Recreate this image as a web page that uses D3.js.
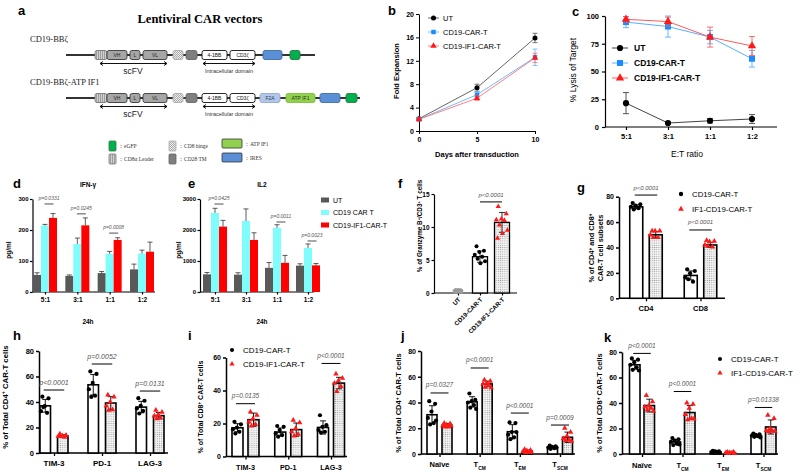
<!DOCTYPE html>
<html><head><meta charset="utf-8">
<script src="https://cdn.jsdelivr.net/npm/d3@7/dist/d3.min.js"></script>
<style>html,body{margin:0;padding:0;background:#fff;overflow:hidden}</style>
</head><body>
<script>
// ===================== DATA =====================
// Panel a – vector schematic
const aTitle = "Lentiviral CAR vectors";
const aNames = ["CD19-BBζ", "CD19-BBζ-ATP IF1"];
const aParts1 = ["Leader","VH","L","VL","Hinge","TM","4-1BB","CD3ζ","IRES","eGFP"];
const aParts2 = ["Leader","VH","L","VL","Hinge","TM","4-1BB","CD3ζ","F2A","ATP IF1","IRES","eGFP"];
const aLegendParts = ["eGFP","Leader","Hinge","TM","ATP IF1","IRES"];
const aLegendLabels = ["：eGFP","：CD8α Leader","：CD8 hinge","：CD28 TM","：ATP IF1","：IRES"];

// Panel b – fold expansion
const bDays = [0,5,10];
const bNames = ["UT","CD19-CAR-T","CD19-IF1-CAR-T"];
const bUT  = [2.1,7.4,15.9], bUTErr  = [0.2,0.6,0.8];
const bCAR = [2.0,6.2,12.6], bCARErr = [0.1,0.5,1.4];
const bIF1 = [2.0,5.6,12.5], bIF1Err = [0.1,0.4,0.8];
const bTicks = [0,4,8,12,16,20];

// Panel c – lysis
const cRatios = ["5:1","3:1","1:1","1:2"];
const cUT  = [21.5,3.6,5.6,7.2],  cUTErr  = [9.5,1,2,4];
const cCAR = [94.5,90.5,81,61.5], cCARErr = [5,9.5,6,7.5];
const cIF1 = [97,95,81,73],       cIF1Err = [2.5,4,9,8.5];
const cTicks = [0,25,50,75,100];

// Panel d – IFN-γ
const dCats = ["5:1","3:1","1:1","1:2"];
const dUT  = [55,52,61,73],    dUTErr  = [7,3,5,17];
const dCAR = [214,155,123,124], dCARErr = [4,19,8,11];
const dIF1 = [239,215,168,130], dIF1Err = [14,24,7,31];
const dTicks = [0,100,200,300];
const dPText = ["p=0.0331","p=0.0245","p=0.0008"], dPCats = ["5:1","3:1","1:1"], dPLevel = [284,252,190];

// Panel e – IL2
const eCats = ["5:1","3:1","1:1","1:2"];
const eUT  = [570,560,780,850],     eUTErr  = [60,60,170,60];
const eCAR = [2550,2290,2070,1420], eCARErr = [150,390,100,130];
const eIF1 = [2110,1680,940,860],   eIF1Err = [200,230,240,60];
const eTicks = [0,1000,2000,3000];
const ePText = ["p=0.0425","p=0.0011","p=0.0023"], ePCats = ["5:1","1:1","1:2"], ePLevel = [2838,2258,1645];
const eLegend = ["UT","CD19 CAR T","CD19-IF1-CAR-T"];

// Panel f – Granzyme B
const fCats = ["UT","CD19-CAR-T","CD19-IF1-CAR-T"];
const fMean = [0.4,5.5,10.7], fSd = [0.1,0.85,1.5];
const fUTPts  = [0.5,0.45,0.4,0.35,0.42,0.3,0.38,0.47];
const fCARPts = [7.1,6.4,6.2,5.8,5.5,5.2,4.8,4.5];
const fIF1Pts = [13.1,12.0,11.2,11.1,11.0,10.3,9.5,9.0,8.3];
const fTicks = [0,5,10,15];
const fPText = "p<0.0001", fPLevel = 13.8;

// Panel g – CD4/CD8 subsets
const gCats = ["CD4","CD8"];
const gCARMean = [72,18], gCARSd = [1.5,3.5];
const gIF1Mean = [50,42], gIF1Sd = [2.5,2];
const gCARPts = [[75,74,73,72,71,70],[22.8,21.5,19.7,16.5,13.1,15]];
const gIF1Pts = [[53,53,53,50,48,48],[45.5,45,44.5,42,40.5,41]];
const gTicks = [0,20,40,60,80];
const gPText = ["p<0.0001","p<0.0001"], gPLevel = [81.3,53.8];
const gLegend = ["CD19-CAR-T","IF1-CD19-CAR-T"];

// Panel h – CD4 exhaustion
const hCats = ["TIM-3","PD-1","LAG-3"];
const hCARMean = [37,53.5,36], hCARSd = [5,8,4.5];
const hIF1Mean = [13.3,39.2,29.3], hIF1Sd = [1,5,2.5];
const hCARPts = [[44.2,42.9,36.7,32.8,31.5,36],[64,62,55,50,45,44],[43,41,37,35,33,31]];
const hIF1Pts = [[15,14,13.5,13,12.5,13],[45.5,44,40,37,34,33.5],[33.5,32,30,29,27.5,27]];
const hTicks = [0,20,40,60,80];
const hPText = ["p<0.0001","p=0.0052","p=0.0131"], hPLevel = [49.4,69.8,48.6];

// Panel i – CD8 exhaustion
const iCats = ["TIM-3","PD-1","LAG-3"];
const iCARMean = [17.4,14.8,17.6], iCARSd = [2.5,2.5,4];
const iIF1Mean = [22.3,16.3,44.5], iIF1Sd = [4,4,3.5];
const iCARPts = [[21,19.5,17.5,16.5,15,14],[18.5,18,16,14,13,12],[25,19,18,16,15,14.5]];
const iIF1Pts = [[27,25,23,21,19.5,18.5],[22,20.5,17,15,13.5,12.5],[50,47.5,46,44.5,42.5,39.5]];
const iTicks = [0,20,40,60];
const iPText = ["p=0.0135","p<0.0001"], iPCats = ["TIM-3","LAG-3"], iPLevel = [32,56.4];
const iLegend = ["CD19-CAR-T","CD19-IF1-CAR-T"];

// Panel j – CD4 memory subsets
const jCats = ["Naive","TCM","TEM","TSCM"];
const jCARMean = [30.5,40.5,17.3,5.2], jCARSd = [7,4,5.5,0.8];
const jIF1Mean = [22.3,54.4,2.2,13], jIF1Sd = [1.3,2.2,0.8,4];
const jCARPts = [[41,39,33,28,24,23,26],[47,42,41,40,38,36,35],[24.5,24,17,15,13,11.5,17],[6.5,6,5.5,5,4.5,4,5]];
const jIF1Pts = [[24,23.5,22.5,22,21,21,22],[57.5,56.5,55,54.5,53.5,52,51.5],[3.5,3,2.5,2,1.5,1,1.5],[20,17,14,12,11,10.5,10]];
const jTicks = [0,20,40,60,80];
const jPText = ["p=0.0327","p<0.0001","p<0.0001","p=0.0009"], jPLevel = [47.4,66.8,31.8,22.5];

// Panel k – CD8 memory subsets
const kCats = ["Naive","TCM","TEM","TSCM"];
const kCARMean = [70,9.5,1.5,14.3], kCARSd = [3.5,2,0.5,1];
const kIF1Mean = [38,32.5,1,21.2], kIF1Sd = [5,5.5,0.4,5.5];
const kCARPts = [[75,74,72,70,68,66,65.5],[12.5,11.5,10.5,9.5,8,7,7.5],[2.5,2,2,1.5,1.5,1,1],[16,15.5,15,14.5,14,13.5,13]];
const kIF1Pts = [[46,41,38,37,36,34.5,33.5],[40,39,36,31,28,27,27.5],[1.5,1.5,1,1,1,0.5,0.5],[30.5,28,20,18.5,18,17.5,18]];
const kTicks = [0,20,40,60,80];
const kPText = ["p<0.0001","p<0.0001","p=0.01338"], kPCats = ["Naive","TCM","TSCM"], kPLevel = [78.9,49,36.5];
const kLegend = ["CD19-CAR-T","IF1-CD19-CAR-T"];

// ===================== DRAWING =====================
const FONT = "'Liberation Sans', Arial, Helvetica, sans-serif";
const SERIF = "'Liberation Serif', 'Times New Roman', serif";
const svg = d3.select("body").append("svg").attr("width",800).attr("height",472)
  .attr("font-family",FONT);
svg.append("rect").attr("width",800).attr("height",472).attr("fill","#fff");
const defs = svg.append("defs");
const dp = defs.append("pattern").attr("id","dots").attr("width",2.2).attr("height",2.2).attr("patternUnits","userSpaceOnUse");
dp.append("rect").attr("width",2.2).attr("height",2.2).attr("fill","#f4f4f4");
dp.append("circle").attr("cx",1.1).attr("cy",1.1).attr("r",0.6).attr("fill","#9a9a9a");
const sp = defs.append("pattern").attr("id","stripes").attr("width",2).attr("height",10).attr("patternUnits","userSpaceOnUse");
sp.append("rect").attr("width",2).attr("height",10).attr("fill","#d0d0d0");
sp.append("rect").attr("width",0.7).attr("height",10).attr("fill","#888");
const cp = defs.append("pattern").attr("id","checker").attr("width",2).attr("height",2).attr("patternUnits","userSpaceOnUse");
cp.append("rect").attr("width",2).attr("height",2).attr("fill","#eee");
cp.append("rect").attr("width",1).attr("height",1).attr("fill","#aaa");
cp.append("rect").attr("x",1).attr("y",1).attr("width",1).attr("height",1).attr("fill","#aaa");

function rich(t,s){
  if(typeof s==="string"){t.text(s);return;}
  s.forEach(([str,type])=>{
    const q=t.append("tspan").text(str);
    if(type==="sup") q.attr("baseline-shift","super").attr("font-size","65%");
    if(type==="sub") q.attr("baseline-shift","sub").attr("font-size","65%");
  });
}
function T(x,y,s,o={}){
  const t=svg.append("text").attr("x",x).attr("y",y).attr("font-size",o.fs||8)
    .attr("text-anchor",o.anchor||"start").attr("fill",o.fill||"#000");
  if(o.bold) t.attr("font-weight","bold");
  if(o.italic) t.attr("font-style","italic");
  if(o.family) t.attr("font-family",o.family);
  if(o.rot!=null) t.attr("transform",`rotate(${o.rot},${x},${y})`);
  rich(t,s);
  return t;
}
const R = arr => arr.map(s=>typeof s==="string"?[s,null]:s);
function styleAxis(g,fs,sw,bold=true){
  g.attr("font-family",FONT).attr("font-size",fs).attr("font-weight",bold?"bold":"normal");
  g.select(".domain").attr("stroke","#000").attr("stroke-width",sw);
  g.selectAll(".tick line").attr("stroke","#000").attr("stroke-width",sw);
  g.selectAll(".tick text").attr("fill","#000");
}
const tri = (size)=>d3.symbol().type(d3.symbolTriangle).size(size)();
const sq = (size)=>d3.symbol().type(d3.symbolSquare).size(size)();
const jit = (i,w)=>(((i*0.618034+0.21)%1)-0.5)*w;

// ---------- Panel letters ----------
[["a",18,15],["b",388,15],["c",572,16],["d",13,188],["e",188,188],["f",398,188],["g",577,192],
 ["h",13,340],["i",188,340],["j",401,340],["k",604,342]].forEach(([l,x,y])=>T(x,y,l,{fs:13,bold:true}));

// ---------- Panel a ----------
T(200,23,aTitle,{fs:12.5,bold:true,family:SERIF,anchor:"middle"});
T(30,42,aNames[0],{fs:8.5,family:SERIF,fill:"#222"});
T(30,85,aNames[1],{fs:8.5,family:SERIF,fill:"#222"});
const aLayout1 = {Leader:[95,12],VH:[107,20],L:[130,10],VL:[143,24],Hinge:[173,10],TM:[186,11],"4-1BB":[202,25],"CD3ζ":[230,25],IRES:[263,19],eGFP:[290,10]};
const aLayout2 = Object.assign({},aLayout1,{F2A:[260,20],"ATP IF1":[286,29],IRES:[320,20],eGFP:[346,11]});
const partStyle = {
  Leader:{fill:"url(#stripes)",stroke:"#777"},
  VH:{fill:"#a6a6a6",stroke:"#3a3a3a",lab:"VH",lc:"#222"},
  L:{fill:"#a6a6a6",stroke:"#3a3a3a",lab:"L",lc:"#222"},
  VL:{fill:"#a6a6a6",stroke:"#3a3a3a",lab:"VL",lc:"#222"},
  Hinge:{fill:"url(#checker)",stroke:"#aaa"},
  TM:{fill:"#7f7f7f",stroke:"#666"},
  "4-1BB":{fill:"#fff",stroke:"#111",lab:"4-1BB",lc:"#111"},
  "CD3ζ":{fill:"#fff",stroke:"#111",lab:"CD3ζ",lc:"#111"},
  F2A:{fill:"#b4c7e7",stroke:"#8eaad6",lab:"F2A",lc:"#1f3864"},
  "ATP IF1":{fill:"#92d050",stroke:"#7cbf3c",lab:"ATP IF1",lc:"#1d3b0c"},
  IRES:{fill:"#5b8fd8",stroke:"#41719c"},
  eGFP:{fill:"#00b050",stroke:"#2d7a3f"}
};
function construct(parts,layout,yc,xEnd){
  svg.append("line").attr("x1",66).attr("x2",xEnd).attr("y1",yc).attr("y2",yc).attr("stroke","#333").attr("stroke-width",2);
  parts.forEach(p=>{
    const [x,w]=layout[p], st=partStyle[p];
    svg.append("rect").attr("x",x).attr("y",yc-4.5).attr("width",w).attr("height",9).attr("rx",2)
      .attr("fill",st.fill).attr("stroke",st.stroke).attr("stroke-width",0.9);
    if(st.lab) T(x+w/2,yc+1.8,st.lab,{fs:5,anchor:"middle",fill:st.lc});
  });
  [[100,167],[203,255]].forEach(([x1,x2])=>{
    const ya=yc+8.5;
    svg.append("line").attr("x1",x1).attr("x2",x2).attr("y1",ya).attr("y2",ya).attr("stroke","#111").attr("stroke-width",1);
    svg.append("path").attr("d",`M${x1+3},${ya-2}L${x1},${ya}L${x1+3},${ya+2}M${x2-3},${ya-2}L${x2},${ya}L${x2-3},${ya+2}`)
      .attr("fill","none").attr("stroke","#111").attr("stroke-width",1);
  });
  T(133,yc+19,"scFV",{fs:8.5,anchor:"middle",fill:"#222"});
  T(229,yc+18,"Intracellular domain",{fs:5.5,anchor:"middle",fill:"#333"});
}
construct(aParts1,aLayout1,55,315);
construct(aParts2,aLayout2,98,360);
const aLegPos = [[109,141,7,10],[109,154,7,10],[169,141,7,10],[169,154,7,10],[222,139,20,9],[222,153,20,9]];
aLegendParts.forEach((p,i)=>{
  const [x,y,w,h]=aLegPos[i], st=partStyle[p];
  svg.append("rect").attr("x",x).attr("y",y).attr("width",w).attr("height",h).attr("rx",1)
    .attr("fill",st.fill).attr("stroke",i>=4?"#333":st.stroke).attr("stroke-width",0.8);
  T(x+w+2,y+h/2+2,aLegendLabels[i],{fs:5.5,family:SERIF,fill:"#333"});
});

// ---------- Panel b ----------
(function(){
  const x=d3.scaleLinear().domain([0,10]).range([419,535]);
  const y=d3.scaleLinear().domain([0,20]).range([131,14]);
  const gy=svg.append("g").attr("transform","translate(419,0)").call(d3.axisLeft(y).tickValues(bTicks).tickSize(3).tickSizeOuter(0).tickPadding(2));
  styleAxis(gy,7,1);
  const gx=svg.append("g").attr("transform","translate(0,131)").call(d3.axisBottom(x).tickValues(bDays).tickSize(3).tickSizeOuter(0).tickPadding(3));
  styleAxis(gx,7,1);
  T(477,157,"Days after transduction",{fs:7.5,bold:true,anchor:"middle"});
  T(399,71,"Fold Expansion",{fs:7.5,bold:true,anchor:"middle",rot:-90});
  const series=[[bUT,bUTErr,"#555","#000","c"],[bCAR,bCARErr,"#66b2ff","#1a8cff","s"],[bIF1,bIF1Err,"#ff7070","#ff1a1a","t"]];
  series.forEach(([v,e,lc,mc,m])=>{
    svg.append("path").attr("d",d3.line().x((d,i)=>x(bDays[i])).y(d=>y(d))(v)).attr("fill","none").attr("stroke",lc).attr("stroke-width",0.9);
    v.forEach((d,i)=>{
      const cx=x(bDays[i]);
      svg.append("path").attr("d",`M${cx},${y(d-e[i])}V${y(d+e[i])}M${cx-2.5},${y(d-e[i])}H${cx+2.5}M${cx-2.5},${y(d+e[i])}H${cx+2.5}`).attr("stroke",lc).attr("stroke-width",0.8);
    });
    v.forEach((d,i)=>{
      svg.append("path").attr("transform",`translate(${x(bDays[i])},${y(d)})`).attr("fill",mc)
        .attr("d",m==="c"?d3.symbol().type(d3.symbolCircle).size(20)():m==="s"?sq(20):tri(18));
    });
  });
  bNames.forEach((n,i)=>{
    const yy=18+i*14, [_,__,lc,mc,m]=series[i];
    svg.append("line").attr("x1",428).attr("x2",439).attr("y1",yy).attr("y2",yy).attr("stroke",lc).attr("stroke-width",0.9);
    svg.append("path").attr("transform",`translate(433.5,${yy})`).attr("fill",mc)
      .attr("d",m==="c"?d3.symbol().type(d3.symbolCircle).size(20)():m==="s"?sq(20):tri(18));
    T(443,yy+2.7,n,{fs:7.5});
  });
})();

// ---------- Panel c ----------
(function(){
  const x=d3.scalePoint().domain(cRatios).range([626,752]);
  const y=d3.scaleLinear().domain([0,100]).range([127,16]);
  const gy=svg.append("g").attr("transform","translate(605,0)").call(d3.axisLeft(y).tickValues(cTicks).tickSize(3).tickSizeOuter(0).tickPadding(3));
  styleAxis(gy,7.5,1.2);
  svg.append("line").attr("x1",605).attr("x2",777).attr("y1",127).attr("y2",127).attr("stroke","#000").attr("stroke-width",1.2);
  const gx=svg.append("g").attr("transform","translate(0,127)").call(d3.axisBottom(x).tickSize(3).tickPadding(4));
  gx.select(".domain").remove();
  styleAxis(gx,7.5,1.2);
  T(687,157,"E:T ratio",{fs:8.5,anchor:"middle"});
  T(576,70,"% Lysis of Target",{fs:8.5,anchor:"middle",rot:-90});
  const series=[[cUT,cUTErr,"#444","#000","c"],[cCAR,cCARErr,"#5aaeff","#1a8cff","s"],[cIF1,cIF1Err,"#ff5a5a","#ff1a1a","t"]];
  series.forEach(([v,e,lc,mc,m])=>{
    svg.append("path").attr("d",d3.line().x((d,i)=>x(cRatios[i])).y(d=>y(d))(v)).attr("fill","none").attr("stroke",lc).attr("stroke-width",1);
    v.forEach((d,i)=>{
      const cx=x(cRatios[i]);
      svg.append("path").attr("d",`M${cx},${y(d-e[i])}V${y(d+e[i])}M${cx-3},${y(d-e[i])}H${cx+3}M${cx-3},${y(d+e[i])}H${cx+3}`).attr("stroke",lc).attr("stroke-width",0.9);
    });
    v.forEach((d,i)=>{
      svg.append("path").attr("transform",`translate(${x(cRatios[i])},${y(d)})`).attr("fill",mc)
        .attr("d",m==="c"?d3.symbol().type(d3.symbolCircle).size(30)():m==="s"?sq(36):tri(30));
    });
  });
  bNames.forEach((n,i)=>{
    const yy=48+i*15, [_,__,lc,mc,m]=series[i];
    svg.append("line").attr("x1",612).attr("x2",628).attr("y1",yy).attr("y2",yy).attr("stroke",lc).attr("stroke-width",1);
    svg.append("path").attr("transform",`translate(620,${yy})`).attr("fill",mc)
      .attr("d",m==="c"?d3.symbol().type(d3.symbolCircle).size(30)():m==="s"?sq(36):tri(30));
    T(634,yy+3,n,{fs:8.5,bold:true});
  });
})();

// ---------- Panels d & e (cytokine bars) ----------
function cytokine(cfg){
  const y=d3.scaleLinear().domain([0,cfg.ymax]).range([292,199]);
  const x=d3.scalePoint().domain(cfg.cats).range(cfg.xr);
  const gy=svg.append("g").attr("transform",`translate(${cfg.ax},0)`).call(d3.axisLeft(y).tickValues(cfg.ticks).tickFormat(d3.format("d")).tickSize(2.5).tickSizeOuter(0).tickPadding(1.5));
  styleAxis(gy,6,1.2);
  svg.append("line").attr("x1",cfg.ax).attr("x2",cfg.axEnd).attr("y1",292).attr("y2",292).attr("stroke","#000").attr("stroke-width",1.2);
  const gx=svg.append("g").attr("transform","translate(0,292)").call(d3.axisBottom(x).tickSize(2.5).tickPadding(3));
  gx.select(".domain").remove();
  styleAxis(gx,6.5,1.2);
  const cols=["#595959","#7ffcfc","#ff0000"], bw=8;
  [[cfg.ut,cfg.utE],[cfg.car,cfg.carE],[cfg.if1,cfg.if1E]].forEach(([v,e],k)=>{
    v.forEach((d,i)=>{
      const x0=x(cfg.cats[i])+(k-1.5)*bw;
      svg.append("rect").attr("x",x0).attr("y",y(d)).attr("width",bw).attr("height",292-y(d)).attr("fill",cols[k]);
      const cx=x0+bw/2;
      svg.append("path").attr("d",`M${cx},${y(d)}V${y(d+e[i])}M${cx-2.5},${y(d+e[i])}H${cx+2.5}`).attr("stroke","#333").attr("stroke-width",0.8);
    });
  });
  cfg.pText.forEach((p,i)=>{
    const cx=x(cfg.pCats[i])+4, yy=y(cfg.pLevel[i]);
    svg.append("line").attr("x1",cx-4.5).attr("x2",cx+4.5).attr("y1",yy).attr("y2",yy).attr("stroke","#222").attr("stroke-width",0.8);
    T(cx,yy-4,p,{fs:5,italic:true,anchor:"middle",fill:"#555"});
  });
  T(cfg.titleX,187,cfg.title,{fs:6.5,bold:true,anchor:"middle"});
  T(cfg.titleX,324,"24h",{fs:6.5,bold:true,anchor:"middle"});
  T(cfg.labX,250,"pg/ml",{fs:6.5,bold:true,anchor:"middle",rot:-90});
}
cytokine({cats:dCats,ut:dUT,utE:dUTErr,car:dCAR,carE:dCARErr,if1:dIF1,if1E:dIF1Err,ymax:300,ticks:dTicks,
  ax:32.5,axEnd:155,xr:[45,142],pText:dPText,pCats:dPCats,pLevel:dPLevel,title:"IFN-γ",titleX:88,labX:11});
cytokine({cats:eCats,ut:eUT,utE:eUTErr,car:eCAR,carE:eCARErr,if1:eIF1,if1E:eIF1Err,ymax:3000,ticks:eTicks,
  ax:200,axEnd:314,xr:[215,308],pText:ePText,pCats:ePCats,pLevel:ePLevel,title:"IL2",titleX:262,labX:181});
eLegend.forEach((n,i)=>{
  const yy=200+i*12.5;
  svg.append("rect").attr("x",321).attr("y",yy-2.5).attr("width",8).attr("height",5).attr("fill",["#595959","#7ffcfc","#ff0000"][i]);
  T(333,yy+2.5,n,{fs:7});
});

// ---------- Panel f ----------
(function(){
  const y=d3.scaleLinear().domain([0,15]).range([293,194]);
  const x=d3.scalePoint().domain(fCats).range([458,502]);
  const gy=svg.append("g").attr("transform","translate(434,0)").call(d3.axisLeft(y).tickValues(fTicks).tickSize(2.5).tickSizeOuter(0).tickPadding(2));
  styleAxis(gy,6.5,1.2);
  svg.append("line").attr("x1",434).attr("x2",517).attr("y1",293).attr("y2",293).attr("stroke","#000").attr("stroke-width",1.2);
  const gx=svg.append("g").attr("transform","translate(0,293)").call(d3.axisBottom(x).tickSize(2.5).tickFormat(""));
  gx.select(".domain").remove(); styleAxis(gx,6,1.2);
  fCats.forEach(c=>T(x(c)+3,300,c,{fs:6.2,bold:true,anchor:"end",rot:-45}));
  const bws=[9,15,15], fills=["#aaa","#fff","url(#dots)"], strokes=["#999","#000","#000"];
  fMean.forEach((m,i)=>{
    const cx=x(fCats[i]);
    svg.append("rect").attr("x",cx-bws[i]/2).attr("y",y(m)).attr("width",bws[i]).attr("height",293-y(m))
      .attr("fill",fills[i]).attr("stroke",strokes[i]).attr("stroke-width",1.3);
    svg.append("path").attr("d",`M${cx},${y(m-fSd[i])}V${y(m+fSd[i])}M${cx-3},${y(m-fSd[i])}H${cx+3}M${cx-3},${y(m+fSd[i])}H${cx+3}`)
      .attr("stroke",i===0?"#888":"#000").attr("stroke-width",0.8);
  });
  fUTPts.forEach((v,i)=>svg.append("circle").attr("cx",x(fCats[0])+jit(i,8)).attr("cy",y(v)).attr("r",1.8).attr("fill","#999"));
  fCARPts.forEach((v,i)=>svg.append("circle").attr("cx",x(fCats[1])+jit(i,12)).attr("cy",y(v)).attr("r",2).attr("fill","#000"));
  fIF1Pts.forEach((v,i)=>svg.append("path").attr("transform",`translate(${x(fCats[2])+jit(i,13)},${y(v)})`).attr("d",tri(12)).attr("fill","#ff1a1a"));
  const yy=y(fPLevel);
  svg.append("line").attr("x1",x(fCats[1])).attr("x2",x(fCats[2])).attr("y1",yy).attr("y2",yy).attr("stroke","#000").attr("stroke-width",1);
  T((x(fCats[1])+x(fCats[2]))/2,yy-5,fPText,{fs:6,italic:true,anchor:"middle",fill:"#555"});
  T(422,226,R(["% of Granzyme B",["+","sup"],"/CD3",["+","sup"]," T cells"]),{fs:6.3,bold:true,anchor:"middle",rot:-90});
})();

// ---------- Dot-bar panels (g, h, i, j, k) ----------
function dotBar(c){
  const y=d3.scaleLinear().domain([0,c.ymax]).range([c.yb,c.yt]);
  const x=d3.scalePoint().domain(c.cats).range(c.xr);
  const gy=svg.append("g").attr("transform",`translate(${c.ax},0)`).call(d3.axisLeft(y).tickValues(c.ticks).tickSize(3).tickSizeOuter(0).tickPadding(2));
  styleAxis(gy,c.tfs,1.5);
  svg.append("line").attr("x1",c.ax).attr("x2",c.axEnd).attr("y1",c.yb).attr("y2",c.yb).attr("stroke","#000").attr("stroke-width",1.5);
  const gx=svg.append("g").attr("transform",`translate(0,${c.yb})`).call(d3.axisBottom(x).tickSize(3).tickFormat(""));
  gx.select(".domain").remove(); styleAxis(gx,c.tfs,1.3);
  c.cats.forEach((k,i)=>T(x(k),c.yb+c.labDy,c.labels[i],{fs:c.lfs,bold:true,anchor:"middle"}));
  const groups=[[c.m1,c.s1,c.p1,"#fff",-1,"c"],[c.m2,c.s2,c.p2,"url(#dots)",1,"t"]];
  groups.forEach(([m,s,pts,fill,sg,mk])=>{
    m.forEach((v,i)=>{
      const cx=x(c.cats[i])+sg*c.off;
      svg.append("rect").attr("x",cx-c.bw/2).attr("y",y(v)).attr("width",c.bw).attr("height",c.yb-y(v))
        .attr("fill",fill).attr("stroke","#000").attr("stroke-width",1.6);
    });
  });
  groups.forEach(([m,s,pts,fill,sg,mk])=>{
    m.forEach((v,i)=>{
      const cx=x(c.cats[i])+sg*c.off, lo=Math.max(0,v-s[i]), hi=v+s[i];
      svg.append("path").attr("d",`M${cx},${y(lo)}V${y(hi)}M${cx-3},${y(lo)}H${cx+3}M${cx-3},${y(hi)}H${cx+3}`)
        .attr("stroke","#000").attr("stroke-width",0.9);
      pts[i].forEach((p,j)=>{
        const px=cx+jit(j,c.bw*0.95);
        if(mk==="c") svg.append("circle").attr("cx",px).attr("cy",y(p)).attr("r",2.1).attr("fill","#000");
        else svg.append("path").attr("transform",`translate(${px},${y(p)})`).attr("d",tri(13)).attr("fill","#ff1a1a");
      });
    });
  });
  c.pText.forEach((p,i)=>{
    const cx=x(c.pCats[i]), yy=y(c.pLevel[i]);
    svg.append("line").attr("x1",cx-c.off-1.5).attr("x2",cx+c.off+1.5).attr("y1",yy).attr("y2",yy).attr("stroke","#000").attr("stroke-width",1);
    T(cx,yy-5.5,p,{fs:c.pfs,italic:true,anchor:"middle",fill:"#555"});
  });
}
const sub=(a,b)=>[[a,null],[b,"sub"]];
const memLabels=[[["Naïve",null]],sub("T","CM"),sub("T","EM"),sub("T","SCM")];

dotBar({cats:gCats,labels:gCats,m1:gCARMean,s1:gCARSd,p1:gCARPts,m2:gIF1Mean,s2:gIF1Sd,p2:gIF1Pts,ymax:80,ticks:gTicks,
  yb:298.3,yt:196.7,ax:619,axEnd:725,xr:[646,700.5],off:9.75,bw:13,pText:gPText,pCats:gCats,pLevel:gPLevel,tfs:7,lfs:7.5,labDy:13,pfs:6});
T(594,248,R(["% of CD4",["+","sup"]," and CD8",["+","sup"]]),{fs:7.3,bold:true,anchor:"middle",rot:-90});
T(603,248,"CAR-T cell subsets",{fs:7.3,bold:true,anchor:"middle",rot:-90});
gLegend.forEach((n,i)=>{
  const yy=194+i*15;
  if(i===0) svg.append("circle").attr("cx",681).attr("cy",yy).attr("r",2.2).attr("fill","#000");
  else svg.append("path").attr("transform",`translate(681,${yy})`).attr("d",tri(14)).attr("fill","#ff1a1a");
  T(692,yy+3,n,{fs:7.8});
});

dotBar({cats:hCats,labels:hCats,m1:hCARMean,s1:hCARSd,p1:hCARPts,m2:hIF1Mean,s2:hIF1Sd,p2:hIF1Pts,ymax:80,ticks:hTicks,
  yb:453,yt:351,ax:39,axEnd:168,xr:[54,150],off:8.75,bw:10.5,pText:hPText,pCats:hCats,pLevel:hPLevel,tfs:7.5,lfs:8,labDy:13,pfs:7});
T(8,397,R(["% of Total CD4",["+","sup"]," CAR-T cells"]),{fs:7.8,bold:true,anchor:"middle",rot:-90});

dotBar({cats:iCats,labels:iCats,m1:iCARMean,s1:iCARSd,p1:iCARPts,m2:iIF1Mean,s2:iIF1Sd,p2:iIF1Pts,ymax:60,ticks:iTicks,
  yb:456.5,yt:357.5,ax:226,axEnd:347,xr:[245.5,331],off:8,bw:11,pText:iPText,pCats:iPCats,pLevel:iPLevel,tfs:7,lfs:7.2,labDy:13,pfs:6.5});
T(203,407,R(["% of Total CD8",["+","sup"]," CAR-T cells"]),{fs:7,bold:true,anchor:"middle",rot:-90});
iLegend.forEach((n,i)=>{
  const yy=350+i*14;
  if(i===0) svg.append("circle").attr("cx",232).attr("cy",yy).attr("r",2).attr("fill","#000");
  else svg.append("path").attr("transform",`translate(232,${yy})`).attr("d",tri(12)).attr("fill","#ff1a1a");
  T(243,yy+3,n,{fs:8});
});

dotBar({cats:jCats,labels:memLabels,m1:jCARMean,s1:jCARSd,p1:jCARPts,m2:jIF1Mean,s2:jIF1Sd,p2:jIF1Pts,ymax:80,ticks:jTicks,
  yb:454,yt:351,ax:421,axEnd:575,xr:[439.5,560],off:7.5,bw:10,pText:jPText,pCats:jCats,pLevel:jPLevel,tfs:7,lfs:7.5,labDy:13,pfs:6.5});
T(401,403,R(["% of Total CD4",["+","sup"]," CAR-T cells"]),{fs:7.5,bold:true,anchor:"middle",rot:-90});

dotBar({cats:kCats,labels:memLabels,m1:kCARMean,s1:kCARSd,p1:kCARPts,m2:kIF1Mean,s2:kIF1Sd,p2:kIF1Pts,ymax:80,ticks:kTicks,
  yb:454,yt:352,ax:622,axEnd:778,xr:[642,763.5],off:7.25,bw:10.5,pText:kPText,pCats:kPCats,pLevel:kPLevel,tfs:7,lfs:7.5,labDy:14,pfs:6.5});
T(602,403,R(["% of Total CD8",["+","sup"]," CAR-T cells"]),{fs:7.5,bold:true,anchor:"middle",rot:-90});
kLegend.forEach((n,i)=>{
  const yy=359+i*14;
  if(i===0) svg.append("circle").attr("cx",720).attr("cy",yy).attr("r",2).attr("fill","#000");
  else svg.append("path").attr("transform",`translate(720,${yy})`).attr("d",tri(12)).attr("fill","#ff1a1a");
  T(731,yy+3,n,{fs:8});
});
</script>
</body></html>
